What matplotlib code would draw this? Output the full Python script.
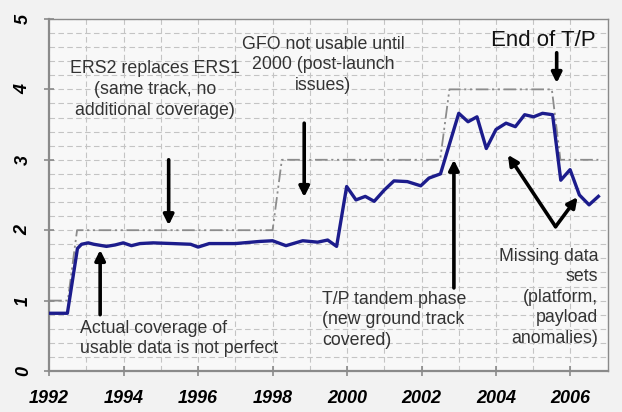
import matplotlib.pyplot as plt
from matplotlib.ticker import MultipleLocator

plt.rcParams['font.family'] = ['Liberation Sans', 'DejaVu Sans']

# actual usable coverage (blue line)
years = [1992.0, 1992.49, 1992.76, 1992.87, 1993.05, 1993.2, 1993.54, 1993.77,
         1993.99, 1994.21, 1994.44, 1994.79, 1995.32, 1995.8, 1996.0, 1996.3,
         1997.0, 1997.65, 1998.0, 1998.36, 1998.81, 1999.21, 1999.48, 1999.72,
         1999.99, 2000.24, 2000.49, 2000.73, 2001.0, 2001.26, 2001.62, 2001.98,
         2002.2, 2002.51, 2003.0, 2003.25, 2003.49, 2003.74, 2004.0, 2004.27,
         2004.52, 2004.77, 2005.01, 2005.25, 2005.52, 2005.74, 2005.99, 2006.24,
         2006.5, 2006.75]
coverage = [0.82, 0.82, 1.74, 1.80, 1.82, 1.80, 1.77, 1.79,
            1.82, 1.78, 1.81, 1.82, 1.81, 1.80, 1.76, 1.81,
            1.81, 1.84, 1.85, 1.78, 1.85, 1.83, 1.86, 1.77,
            2.62, 2.43, 2.48, 2.41, 2.57, 2.70, 2.69, 2.63,
            2.74, 2.80, 3.66, 3.54, 3.61, 3.16, 3.43, 3.52,
            3.47, 3.64, 3.61, 3.66, 3.64, 2.71, 2.86, 2.50,
            2.36, 2.48]

# nominal number of missions (dash-dot line)
mission_years = [1992.0, 1992.5, 1992.75, 1998.0, 1998.25, 2002.5, 2002.75,
                 2005.5, 2005.73, 2006.75]
missions = [1, 1, 2, 2, 3, 3, 4, 4, 3, 3]

fig, ax = plt.subplots(figsize=(6.22, 4.12), dpi=100)
fig.patch.set_facecolor('#f2f2f2')
ax.set_facecolor('#f8f8f8')
fig.subplots_adjust(left=0.079, right=0.977, bottom=0.0995, top=0.954)

ax.plot(mission_years, missions, color='#8c8c8c', lw=1.3,
        linestyle=(0, (7, 2, 1.2, 2, 1.2, 2)), zorder=2)
ax.plot(years, coverage, color='#1c1c8c', lw=2.4, zorder=3)

ax.set_xlim(1992, 2007)
ax.set_ylim(0, 5)
ax.xaxis.set_major_locator(MultipleLocator(2))
ax.xaxis.set_minor_locator(MultipleLocator(1))
ax.yaxis.set_major_locator(MultipleLocator(1))
ax.yaxis.set_minor_locator(MultipleLocator(0.2))
ax.grid(which='both', color='#c4c4c4', linestyle=(0, (5, 3)), lw=0.8)
ax.set_axisbelow(True)

for s in ax.spines.values():
    s.set_color('#8a8a8a')
    s.set_linewidth(1.0)
ax.spines['left'].set_linewidth(1.6)
ax.spines['bottom'].set_linewidth(1.6)
ax.tick_params(which='major', direction='inout', length=7, color='#8a8a8a', width=1.2)
ax.tick_params(which='minor', length=0)
ax.tick_params(axis='x', labelsize=13, pad=10)
ax.tick_params(axis='y', labelsize=13, pad=9)
for lab in ax.get_xticklabels():
    lab.set_fontweight('bold')
    lab.set_fontstyle('italic')
for lab in ax.get_yticklabels():
    lab.set_fontweight('bold')
    lab.set_fontstyle('italic')
    lab.set_rotation(90)
    lab.set_va('center')

txt = dict(fontsize=12.8, color='#333333', linespacing=1.27)
ax.text(1994.84, 4.41, 'ERS2 replaces ERS1\n(same track, no\nadditional coverage)',
        ha='center', va='top', **txt)
ax.text(1999.36, 4.76, 'GFO not usable until\n2000 (post-launch\nissues)',
        ha='center', va='top', **txt)
ax.text(2005.28, 4.69, 'End of T/P', ha='center', va='center',
        fontsize=16, color='#111111')
ax.text(1992.83, 0.73, 'Actual coverage of\nusable data is not perfect',
        ha='left', va='top', **txt)
ax.text(1999.34, 1.14, 'T/P tandem phase\n(new ground track\ncovered)',
        ha='left', va='top', **txt)
ax.text(2006.75, 1.75, 'Missing data\nsets\n(platform,\npayload\nanomalies)',
        ha='right', va='top', **txt)

arrow = dict(arrowstyle='-|>', color='black', lw=2.6, mutation_scale=15,
             shrinkA=0, shrinkB=0)
ax.annotate('', xy=(1995.21, 2.07), xytext=(1995.21, 3.0), arrowprops=arrow)
ax.annotate('', xy=(1998.85, 2.47), xytext=(1998.85, 3.52), arrowprops=arrow)
ax.annotate('', xy=(1993.37, 1.72), xytext=(1993.37, 0.80), arrowprops=arrow)
ax.annotate('', xy=(2005.63, 4.09), xytext=(2005.63, 4.52), arrowprops=arrow)
ax.annotate('', xy=(2002.87, 3.0), xytext=(2002.87, 1.18), arrowprops=arrow)
ax.annotate('', xy=(2004.32, 3.07), xytext=(2005.6, 2.05), arrowprops=arrow)
ax.annotate('', xy=(2006.19, 2.47), xytext=(2005.6, 2.05), arrowprops=arrow)

fig.savefig('out.png', dpi=100, facecolor=fig.get_facecolor())
